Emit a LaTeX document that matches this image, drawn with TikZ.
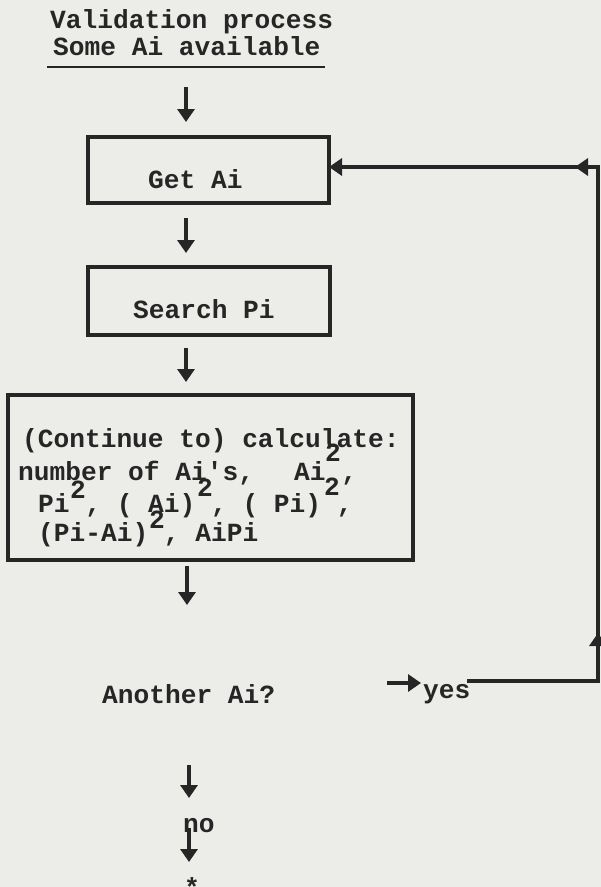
\documentclass[tikz,border=0pt]{standalone}
\usepackage{fontspec}
\setmainfont{Liberation Mono}[Ligatures=TeXOff]
\usetikzlibrary{arrows.meta}
\definecolor{paper}{RGB}{236,237,232}
\definecolor{inkc}{RGB}{38,38,38}
\newcommand\tfont{\fontsize{26.2}{30}\selectfont\bfseries}
\tikzset{
  box/.style={draw=inkc, line width=4pt, rectangle, inner sep=0pt},
  txt/.style={anchor=base west, inner sep=0pt, text=inkc, font=\tfont},
  tip/.style={-{Triangle[width=17pt,length=13pt]}},
  arr/.style={draw=inkc, line width=4pt, tip},
  loopline/.style={draw=inkc, line width=4pt},
}
\begin{document}
\begin{tikzpicture}[x=1pt,y=-1pt]
\useasboundingbox (0,0) rectangle (601,887);
\fill[paper] (0,0) rectangle (601,887);
% title
\node[txt] (t1) at (50,28) {Validation process};
\node[txt] (t2) at (53,55) {Some Ai available};
\coordinate (ul1) at (47,67);
\coordinate (ul2) at (325,67);
\draw[draw=inkc, line width=2.5pt] (ul1) -- (ul2);
% boxes
\node[box, minimum width=241pt, minimum height=66pt] (getai) at (208.5,170) {};
\node[txt] (getaitxt) at (148,188) {Get Ai};
\node[box, minimum width=242pt, minimum height=68pt] (search) at (209,301) {};
\node[txt] (searchtxt) at (133,318) {Search Pi};
\node[box, minimum width=405pt, minimum height=165pt] (calc) at (210.5,477.5) {};
\node[txt] (c1) at (22,447) {(Continue to) calculate:};
\node[txt] (c2) at (18,480) {number of Ai's,};
\node[txt] (c2b) at (294,480) {Ai ,};
\node[txt] (c3) at (38,512) {Pi , ( Ai) , ( Pi) ,};
\node[txt] (c4) at (38,541) {(Pi-Ai) ,  AiPi};
\node[txt] (s1) at (325,461) {2};
\node[txt] (s2) at (70,498) {2};
\node[txt] (s3) at (197,496) {2};
\node[txt] (s4) at (324,495) {2};
\node[txt] (s5) at (149,528) {2};
% decision
\node[txt] (another) at (102,703) {Another Ai?};
\node[txt] (yes) at (423,698) {yes};
\node[txt] (no) at (183,832) {no};
\node[txt] (star) at (184,896) {*};
% arrows down
\coordinate (a1s) at (186,87);  \coordinate (a1e) at (186,122);
\coordinate (a2s) at (186,218); \coordinate (a2e) at (186,253);
\coordinate (a3s) at (186,348); \coordinate (a3e) at (186,382);
\coordinate (a4s) at (187,566); \coordinate (a4e) at (187,605);
\coordinate (a5s) at (189,765); \coordinate (a5e) at (189,798);
\coordinate (a6s) at (189,828); \coordinate (a6e) at (189,862);
\draw[arr] (a1s) -- (a1e);
\draw[arr] (a2s) -- (a2e);
\draw[arr] (a3s) -- (a3e);
\draw[arr] (a4s) -- (a4e);
\draw[arr] (a5s) -- (a5e);
\draw[arr] (a6s) -- (a6e);
% yes arrow
\coordinate (ys) at (387,683);
\coordinate (ye) at (421,683);
\draw[arr] (ys) -- (ye);
% loop back
\coordinate (l0) at (467,681);
\coordinate (l1) at (598,681);
\coordinate (l2) at (598,167);
\draw[loopline, tip, shorten >=-2pt] (l0) -- (l1) -- (l2) -- (getai.east |- l2);
\coordinate (m1s) at (598,654); \coordinate (m1e) at (598,633);
\coordinate (m2s) at (594,167); \coordinate (m2e) at (575,167);
\draw[arr] (m1s) -- (m1e);
\draw[arr] (m2s) -- (m2e);
\end{tikzpicture}
\end{document}
